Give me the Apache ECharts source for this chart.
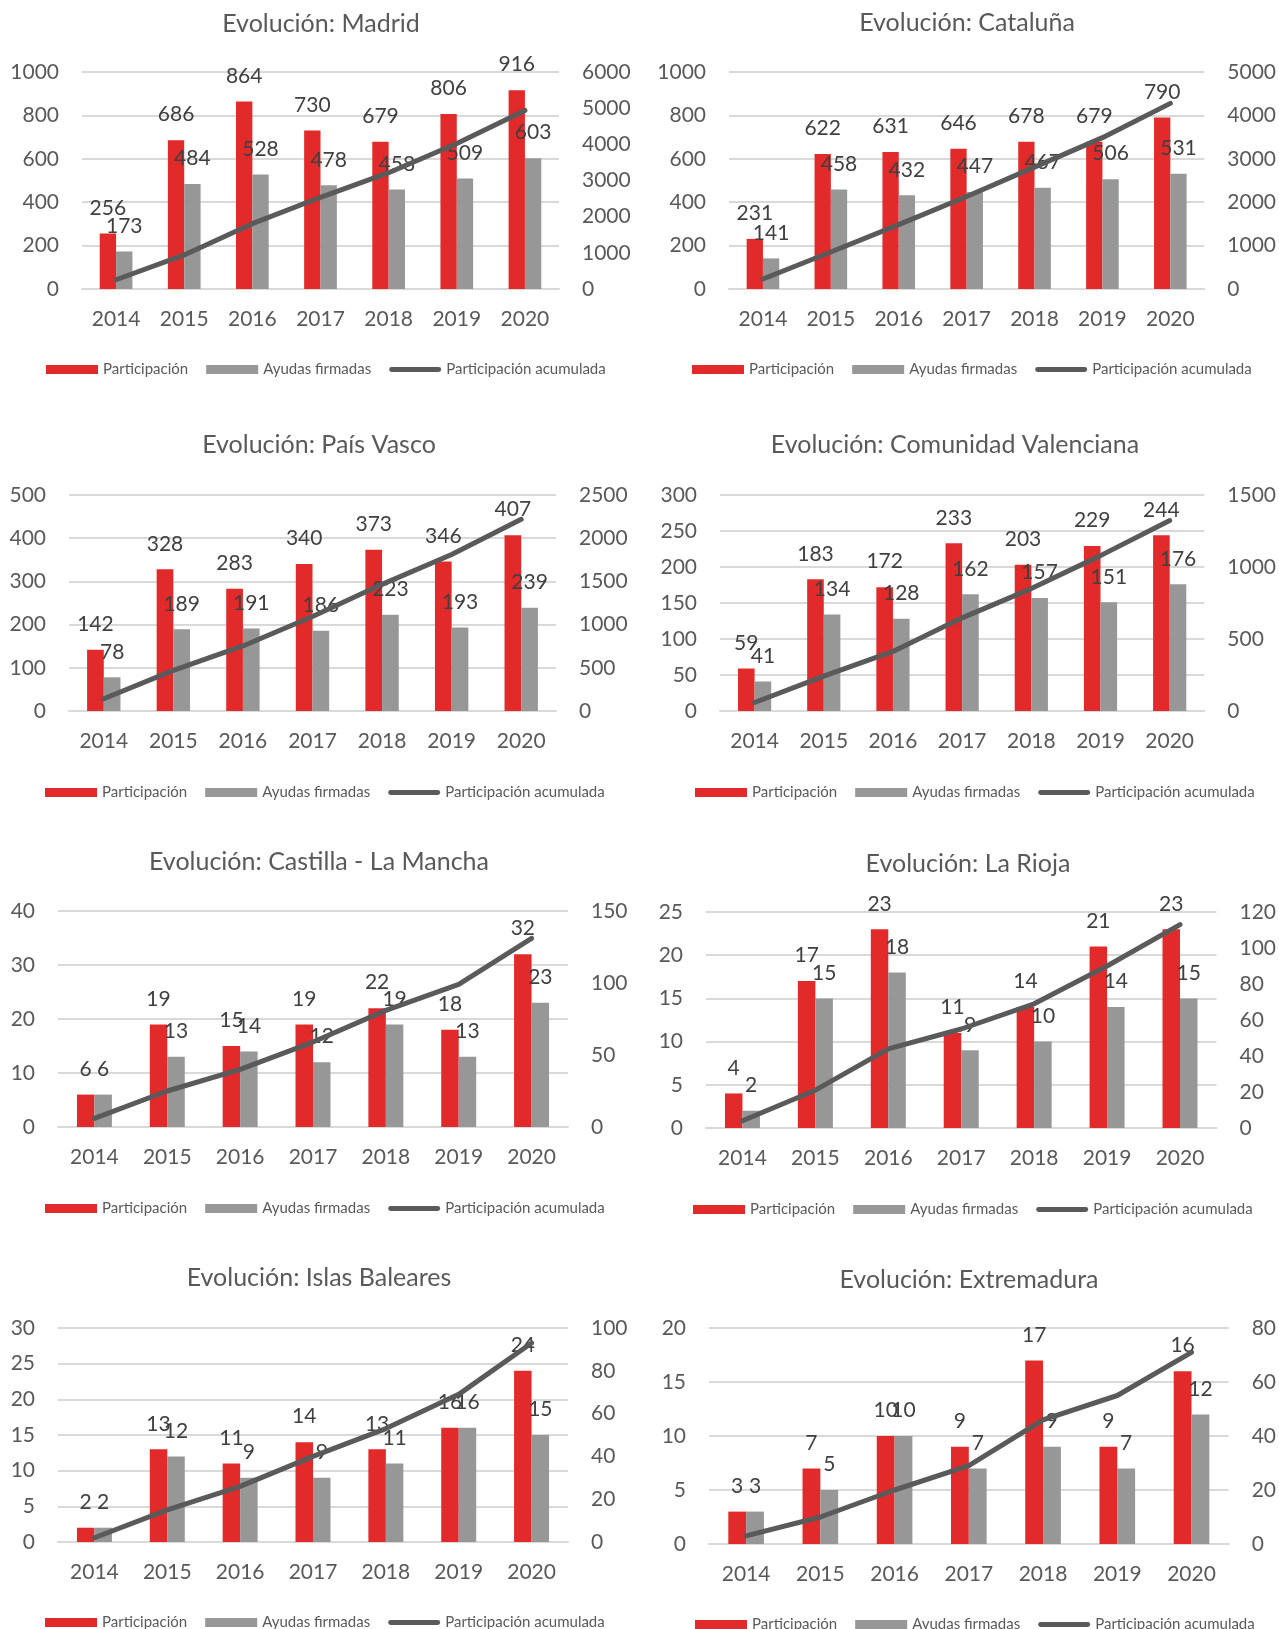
<!DOCTYPE html>
<html><head><meta charset="utf-8">
<script src="https://cdn.jsdelivr.net/npm/echarts@6/dist/echarts.min.js"></script>
<style>html,body{margin:0;padding:0;background:#fff}#c{width:1279px;height:1629px}</style>
</head><body><div id="c"></div>
<script>
const years = ['2014', '2015', '2016', '2017', '2018', '2019', '2020'];
const titles = ['Evolución: Madrid', 'Evolución: Cataluña', 'Evolución: País Vasco', 'Evolución: Comunidad Valenciana',
  'Evolución: Castilla - La Mancha', 'Evolución: La Rioja', 'Evolución: Islas Baleares', 'Evolución: Extremadura'];
const seriesNames = ['Participación', 'Ayudas firmadas', 'Participación acumulada'];

const partMadrid = [256, 686, 864, 730, 679, 806, 916];
const ayudasMadrid = [173, 484, 528, 478, 458, 509, 603];
const acumMadrid = [256, 942, 1806, 2536, 3215, 4021, 4937];

const partCataluna = [231, 622, 631, 646, 678, 679, 790];
const ayudasCataluna = [141, 458, 432, 447, 467, 506, 531];
const acumCataluna = [231, 853, 1484, 2130, 2808, 3487, 4277];

const partPaisVasco = [142, 328, 283, 340, 373, 346, 407];
const ayudasPaisVasco = [78, 189, 191, 186, 223, 193, 239];
const acumPaisVasco = [142, 470, 753, 1093, 1466, 1812, 2219];

const partValenciana = [59, 183, 172, 233, 203, 229, 244];
const ayudasValenciana = [41, 134, 128, 162, 157, 151, 176];
const acumValenciana = [59, 242, 414, 647, 850, 1079, 1323];

const partCLM = [6, 19, 15, 19, 22, 18, 32];
const ayudasCLM = [6, 13, 14, 12, 19, 13, 23];
const acumCLM = [6, 25, 40, 59, 81, 99, 131];

const partRioja = [4, 17, 23, 11, 14, 21, 23];
const ayudasRioja = [2, 15, 18, 9, 10, 14, 15];
const acumRioja = [4, 21, 44, 55, 69, 90, 113];

const partBaleares = [2, 13, 11, 14, 13, 16, 24];
const ayudasBaleares = [2, 12, 9, 9, 11, 16, 15];
const acumBaleares = [2, 15, 26, 40, 53, 69, 93];

const partExtremadura = [3, 7, 10, 9, 17, 9, 16];
const ayudasExtremadura = [3, 5, 10, 7, 9, 7, 12];
const acumExtremadura = [3, 10, 20, 29, 46, 55, 71];

const leftMax = [1000, 1000, 500, 300, 40, 25, 30, 20];
const leftStep = [200, 200, 100, 50, 10, 5, 5, 5];
const rightMax = [6000, 5000, 2500, 1500, 150, 120, 100, 80];
const rightStep = [1000, 1000, 500, 500, 50, 20, 20, 20];

const partAll = [partMadrid, partCataluna, partPaisVasco, partValenciana, partCLM, partRioja, partBaleares, partExtremadura];
const ayudasAll = [ayudasMadrid, ayudasCataluna, ayudasPaisVasco, ayudasValenciana, ayudasCLM, ayudasRioja, ayudasBaleares, ayudasExtremadura];
const acumAll = [acumMadrid, acumCataluna, acumPaisVasco, acumValenciana, acumCLM, acumRioja, acumBaleares, acumExtremadura];

// layout (pixels): grid left/top/width/height, title center, legend left/center-y
const layout = [
  {gl: 82, gt: 72, gw: 477, gh: 217, tx: 321, ty: 25, lx: 46, ly: 370},
  {gl: 729, gt: 72, gw: 478, gh: 217, tx: 967, ty: 24, lx: 692, ly: 370},
  {gl: 69, gt: 495, gw: 487, gh: 216, tx: 319, ty: 446, lx: 45, ly: 793},
  {gl: 720, gt: 495, gw: 487, gh: 216, tx: 955, ty: 446, lx: 695, ly: 793},
  {gl: 58, gt: 911, gw: 510, gh: 216, tx: 319, ty: 863, lx: 45, ly: 1209},
  {gl: 706, gt: 912, gw: 511, gh: 216, tx: 968, ty: 865, lx: 693, ly: 1210},
  {gl: 58, gt: 1328, gw: 510, gh: 214, tx: 319, ty: 1279, lx: 45, ly: 1623},
  {gl: 709, gt: 1328, gw: 523, gh: 216, tx: 969, ty: 1281, lx: 695, ly: 1625}
];

const FONT = 'Lato';
const RED = '#E32A2A', GRAY = '#979797', LINE = '#5A5A5A', GRID = '#D9D9D9', TXT = '#595959', LBL = '#404040';
const PILL = 'path://M2.5,0 L51.5,0 A2.5,2.5 0 0 1 51.5,5 L2.5,5 A2.5,2.5 0 0 1 2.5,0 Z';
const plain = v => String(v);

const option = {animation: false, title: [], legend: [], grid: [], xAxis: [], yAxis: [], series: []};
for (let i = 0; i < 8; i++) {
  const L = layout[i];
  option.title.push({text: titles[i], left: L.tx, top: L.ty - 14, textAlign: 'center', padding: 0,
    textStyle: {fontFamily: FONT, fontSize: 25, fontWeight: 'normal', color: TXT}});
  option.legend.push({left: L.lx, top: L.ly - 8, padding: 0, itemWidth: 52, itemHeight: 9, itemGap: 18,
    textStyle: {fontFamily: FONT, fontSize: 15, color: TXT},
    data: [{name: seriesNames[0], icon: 'rect'}, {name: seriesNames[1], icon: 'rect'},
           {name: seriesNames[2], icon: PILL, itemStyle: {color: LINE}}]});
  option.grid.push({left: L.gl, top: L.gt, width: L.gw, height: L.gh, containLabel: false});
  option.xAxis.push({type: 'category', gridIndex: i, data: years,
    axisLine: {show: true, lineStyle: {color: GRID, width: 2}}, axisTick: {show: false},
    axisLabel: {fontFamily: FONT, fontSize: 21, color: TXT, margin: 20}});
  option.yAxis.push({type: 'value', gridIndex: i, min: 0, max: leftMax[i], interval: leftStep[i],
    axisLine: {show: false}, axisTick: {show: false},
    splitLine: {show: true, lineStyle: {color: GRID, width: 2}},
    axisLabel: {fontFamily: FONT, fontSize: 21, color: TXT, margin: 23, formatter: plain}});
  option.yAxis.push({type: 'value', gridIndex: i, position: 'right', min: 0, max: rightMax[i], interval: rightStep[i],
    axisLine: {show: false}, axisTick: {show: false}, splitLine: {show: false},
    axisLabel: {fontFamily: FONT, fontSize: 21, color: TXT, margin: 23, formatter: plain}});
  const lbl = {show: true, position: 'top', distance: 15, fontFamily: FONT, fontSize: 21, color: LBL};
  option.series.push({name: seriesNames[0], type: 'bar', xAxisIndex: i, yAxisIndex: 2 * i, data: partAll[i],
    barWidth: '24%', barGap: '0%', itemStyle: {color: RED}, label: lbl, z: 2});
  option.series.push({name: seriesNames[1], type: 'bar', xAxisIndex: i, yAxisIndex: 2 * i, data: ayudasAll[i],
    barWidth: '24%', barGap: '0%', itemStyle: {color: GRAY}, label: lbl, z: 2});
  option.series.push({name: seriesNames[2], type: 'line', xAxisIndex: i, yAxisIndex: 2 * i + 1, data: acumAll[i],
    symbol: 'none', itemStyle: {color: LINE}, lineStyle: {color: LINE, width: 5, cap: 'round', join: 'round'}, z: 3});
}
const chart = echarts.init(document.getElementById('c'), null, {renderer: 'canvas'});
chart.setOption(option);
</script></body></html>
